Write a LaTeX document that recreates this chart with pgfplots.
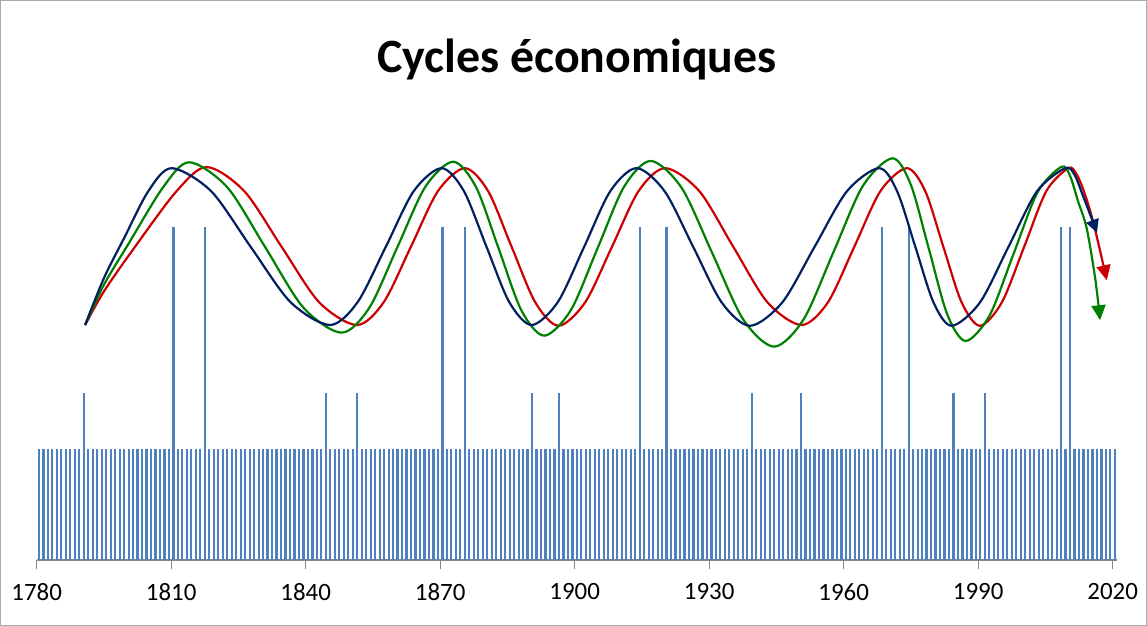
\documentclass[border=0pt]{standalone}
\usepackage{pgfplots}
\pgfplotsset{compat=1.18}
\usepackage{fontspec}
\setmainfont{Carlito}
\usetikzlibrary{arrows.meta}
\definecolor{barblue}{RGB}{79,129,189}
\definecolor{cnavy}{RGB}{0,32,96}
\definecolor{cred}{RGB}{204,0,0}
\definecolor{cgreen}{RGB}{0,128,0}
\definecolor{axgray}{RGB}{134,134,134}
\begin{document}
\begin{tikzpicture}[x=1bp,y=1bp]
\draw[axgray!70, line width=1bp] (-36.2,-65.5) rectangle (1109.8,559.5);
\begin{axis}[
  at={(0,0)}, anchor=south west,
  scale only axis, width=1080.4bp, height=410.7bp,
  xmin=1780, xmax=2021, ymin=0, ymax=3.7,
  axis x line*=bottom, axis y line=none,
  xtick={1780,1810,...,2020},
  tick align=outside, major tick length=9bp,
  x axis line style={axgray, line width=1.3bp, -},
  xtick style={axgray, line width=1bp},
  xticklabel style={font=\fontsize{25}{30}\selectfont, text=black, yshift=-11bp},
  /pgf/number format/assume math mode=true,
  /pgf/number format/1000 sep={},
  clip=false,
]
\addplot[ycomb, barblue, line width=2.2bp] coordinates {
(1780.5,1)(1781.5,1)(1782.5,1)(1783.5,1)(1784.5,1)(1785.5,1)(1786.5,1)(1787.5,1)(1788.5,1)(1789.5,1)
(1790.5,1.5)(1791.5,1)(1792.5,1)(1793.5,1)(1794.5,1)(1795.5,1)(1796.5,1)(1797.5,1)(1798.5,1)(1799.5,1)
(1800.5,1)(1801.5,1)(1802.5,1)(1803.5,1)(1804.5,1)(1805.5,1)(1806.5,1)(1807.5,1)(1808.5,1)(1809.5,1)
(1810.5,3)(1811.5,1)(1812.5,1)(1813.5,1)(1814.5,1)(1815.5,1)(1816.5,1)(1817.5,3)(1818.5,1)(1819.5,1)
(1820.5,1)(1821.5,1)(1822.5,1)(1823.5,1)(1824.5,1)(1825.5,1)(1826.5,1)(1827.5,1)(1828.5,1)(1829.5,1)
(1830.5,1)(1831.5,1)(1832.5,1)(1833.5,1)(1834.5,1)(1835.5,1)(1836.5,1)(1837.5,1)(1838.5,1)(1839.5,1)
(1840.5,1)(1841.5,1)(1842.5,1)(1843.5,1)(1844.5,1.5)(1845.5,1)(1846.5,1)(1847.5,1)(1848.5,1)(1849.5,1)
(1850.5,1)(1851.5,1.5)(1852.5,1)(1853.5,1)(1854.5,1)(1855.5,1)(1856.5,1)(1857.5,1)(1858.5,1)(1859.5,1)
(1860.5,1)(1861.5,1)(1862.5,1)(1863.5,1)(1864.5,1)(1865.5,1)(1866.5,1)(1867.5,1)(1868.5,1)(1869.5,1)
(1870.5,3)(1871.5,1)(1872.5,1)(1873.5,1)(1874.5,1)(1875.5,3)(1876.5,1)(1877.5,1)(1878.5,1)(1879.5,1)
(1880.5,1)(1881.5,1)(1882.5,1)(1883.5,1)(1884.5,1)(1885.5,1)(1886.5,1)(1887.5,1)(1888.5,1)(1889.5,1)
(1890.5,1.5)(1891.5,1)(1892.5,1)(1893.5,1)(1894.5,1)(1895.5,1)(1896.5,1.5)(1897.5,1)(1898.5,1)(1899.5,1)
(1900.5,1)(1901.5,1)(1902.5,1)(1903.5,1)(1904.5,1)(1905.5,1)(1906.5,1)(1907.5,1)(1908.5,1)(1909.5,1)
(1910.5,1)(1911.5,1)(1912.5,1)(1913.5,1)(1914.5,3)(1915.5,1)(1916.5,1)(1917.5,1)(1918.5,1)(1919.5,1)
(1920.5,3)(1921.5,1)(1922.5,1)(1923.5,1)(1924.5,1)(1925.5,1)(1926.5,1)(1927.5,1)(1928.5,1)(1929.5,1)
(1930.5,1)(1931.5,1)(1932.5,1)(1933.5,1)(1934.5,1)(1935.5,1)(1936.5,1)(1937.5,1)(1938.5,1)(1939.5,1.5)
(1940.5,1)(1941.5,1)(1942.5,1)(1943.5,1)(1944.5,1)(1945.5,1)(1946.5,1)(1947.5,1)(1948.5,1)(1949.5,1)
(1950.5,1.5)(1951.5,1)(1952.5,1)(1953.5,1)(1954.5,1)(1955.5,1)(1956.5,1)(1957.5,1)(1958.5,1)(1959.5,1)
(1960.5,1)(1961.5,1)(1962.5,1)(1963.5,1)(1964.5,1)(1965.5,1)(1966.5,1)(1967.5,1)(1968.5,3)(1969.5,1)
(1970.5,1)(1971.5,1)(1972.5,1)(1973.5,1)(1974.5,3)(1975.5,1)(1976.5,1)(1977.5,1)(1978.5,1)(1979.5,1)
(1980.5,1)(1981.5,1)(1982.5,1)(1983.5,1)(1984.5,1.5)(1985.5,1)(1986.5,1)(1987.5,1)(1988.5,1)(1989.5,1)
(1990.5,1)(1991.5,1.5)(1992.5,1)(1993.5,1)(1994.5,1)(1995.5,1)(1996.5,1)(1997.5,1)(1998.5,1)(1999.5,1)
(2000.5,1)(2001.5,1)(2002.5,1)(2003.5,1)(2004.5,1)(2005.5,1)(2006.5,1)(2007.5,1)(2008.5,3)(2009.5,1)
(2010.5,3)(2011.5,1)(2012.5,1)(2013.5,1)(2014.5,1)(2015.5,1)(2016.5,1)(2017.5,1)(2018.5,1)(2019.5,1)
(2020.5,1)
};
\addplot[cred, line width=2.2bp, smooth, -{Triangle[length=15bp,width=14bp]}] coordinates {
(1790.8,2.117)(1795,2.42)(1801.9,2.82)(1811.2,3.323)(1817.9,3.54)
(1826.3,3.323)(1834.65,2.82)(1843.0,2.322)(1851.4,2.117)
(1857.4,2.322)(1863.45,2.82)(1869.5,3.323)(1875.5,3.53)
(1880.7,3.323)(1885.95,2.82)(1891.2,2.322)(1896.4,2.11)
(1902.35,2.322)(1908.3,2.82)(1914.25,3.323)(1920.2,3.53)
(1927.8,3.323)(1935.4,2.82)(1943.0,2.322)(1950.6,2.117)
(1956.5,2.322)(1962.35,2.82)(1968.2,3.323)(1974.1,3.53)
(1978.2,3.323)(1982.25,2.82)(1986.3,2.322)(1990.4,2.11)
(1995.3,2.322)(2000.25,2.82)(2005.2,3.323)(2010.1,3.53)
(2011.9,3.48)(2013.6,3.32)(2015.7,3.04)(2018.7,2.52)
};
\addplot[cgreen, line width=2.2bp, smooth, -{Triangle[length=15bp,width=14bp]}] coordinates {
(1790.8,2.117)(1795,2.48)(1800.5,2.85)(1808.2,3.358)(1814.0,3.583)
(1822.5,3.358)(1831,2.816)(1839.5,2.273)(1848.0,2.048)
(1854.2,2.273)(1860.45,2.818)(1866.7,3.363)(1872.9,3.588)
(1878.0,3.359)(1883.05,2.805)(1888.1,2.25)(1893.2,2.021)
(1899.15,2.251)(1905.1,2.808)(1911.05,3.365)(1917.0,3.595)
(1923.9,3.35)(1930.75,2.759)(1937.6,2.167)(1944.5,1.922)
(1951.1,2.17)(1957.7,2.771)(1964.3,3.371)(1970.9,3.619)
(1975.0,3.378)(1979.05,2.796)(1983.1,2.214)(1987.2,1.973)
(1992.55,2.203)(1997.9,2.758)(2003.25,3.313)(2008.6,3.543)
(2010.5,3.46)(2012.3,3.23)(2014.2,2.99)(2016.1,2.54)(2017.2,2.16)
};
\addplot[cnavy, line width=2.2bp, smooth, -{Triangle[length=13bp,width=13bp]}] coordinates {
(1790.8,2.117)(1795,2.54)(1799.5,2.90)(1804.9,3.323)(1810.1,3.53)
(1818.9,3.323)(1827.75,2.82)(1836.6,2.324)(1845.4,2.117)
(1851.6,2.324)(1857.85,2.82)(1864.1,3.323)(1870.3,3.53)
(1875.3,3.323)(1880.35,2.82)(1885.4,2.324)(1890.4,2.117)
(1896.25,2.324)(1902.1,2.82)(1907.95,3.323)(1913.8,3.53)
(1920.1,3.32)(1926.45,2.82)(1932.8,2.32)(1939.1,2.11)
(1946.3,2.32)(1953.5,2.82)(1960.7,3.32)(1967.9,3.53)
(1971.95,3.32)(1976.0,2.82)(1980.05,2.32)(1984.1,2.11)
(1990.4,2.32)(1996.75,2.82)(2003.1,3.32)(2009.4,3.53)
(2011.5,3.47)(2013.4,3.28)(2016.5,2.95)
};
\node[font=\bfseries\fontsize{48}{58}\selectfont, anchor=base] at (rel axis cs:0.5,1) [yshift=77bp] {Cycles économiques};
\end{axis}
\end{tikzpicture}
\end{document}
